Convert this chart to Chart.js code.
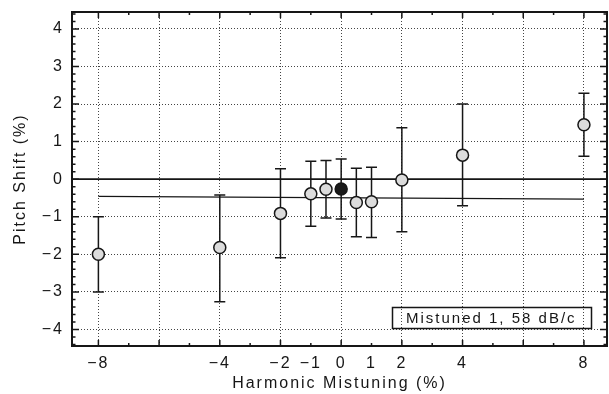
<!DOCTYPE html>
<html>
<head>
<meta charset="utf-8">
<script src="https://cdn.jsdelivr.net/npm/chart.js@4"></script>
<style>
  html, body { margin: 0; padding: 0; background: #fff; }
  canvas { display: block; }
</style>
</head>
<body>
<canvas id="grafico" width="609" height="394"></canvas>
<script>
// datos
const mistuning  = [-8, -4, -2, -1, -0.5, 0, 0.5, 1, 2, 4, 8];
const pitchShift = [-2.0, -1.82, -0.91, -0.39, -0.27, -0.26, -0.62, -0.60, -0.02, 0.64, 1.45];
const errUpper   = [-1.0, -0.42, 0.28, 0.48, 0.50, 0.54, 0.29, 0.32, 1.37, 2.0, 2.29];
const errLower   = [-3.0, -3.26, -2.09, -1.25, -1.03, -1.06, -1.53, -1.55, -1.40, -0.71, 0.61];
const fitX = [-8, 8];
const fitY = [-0.46, -0.53];
const xTickLabels = [-8, -4, -2, -1, 0, 1, 2, 4, 8];
const xGridValues = [-8, -6, -4, -2, 0, 2, 4, 6, 8];
const yTickLabels = [-4, -3, -2, -1, 0, 1, 2, 3, 4];
const legendText = 'Mistuned 1, 58 dB/c';

const ink = '#161616';
const fuente = 'Liberation Sans, Arial, sans-serif';

function menos(v) {
    return String(v).replace('-', '\u2212');
}

function sinRelleno(s) {
    s.paddingTop = 0; s.paddingBottom = 0;
    s.paddingLeft = 0; s.paddingRight = 0;
}

const puntos = mistuning.map((x, i) => ({ x: x, y: pitchShift[i] }));
const recta = fitX.map((x, i) => ({ x: x, y: fitY[i] }));

// barras de error, ejes y marcas
const extras = {
    id: 'extras',
    beforeDraw(chart) {
        chart.ctx.letterSpacing = '2px';
    },
    beforeDatasetsDraw(chart) {
        const c = chart.ctx, xs = chart.scales.x, ys = chart.scales.y, a = chart.chartArea;
        c.save();
        c.strokeStyle = ink;
        // linea del cero
        c.lineWidth = 1.8;
        c.beginPath();
        c.moveTo(a.left, ys.getPixelForValue(0));
        c.lineTo(a.right, ys.getPixelForValue(0));
        c.stroke();
        // barras de error
        c.lineWidth = 1.5;
        mistuning.forEach((x, i) => {
            const px = xs.getPixelForValue(x);
            const t = ys.getPixelForValue(errUpper[i]);
            const b = ys.getPixelForValue(errLower[i]);
            c.beginPath();
            c.moveTo(px, t); c.lineTo(px, b);
            c.moveTo(px - 5.5, t); c.lineTo(px + 5.5, t);
            c.moveTo(px - 5.5, b); c.lineTo(px + 5.5, b);
            c.stroke();
        });
        c.restore();
    },
    afterDraw(chart) {
        const c = chart.ctx, xs = chart.scales.x, ys = chart.scales.y, a = chart.chartArea;
        c.save();
        c.strokeStyle = ink;
        c.lineWidth = 1.5;
        c.beginPath();
        for (let v = -8; v <= 8; v++) {
            const px = xs.getPixelForValue(v);
            const len = v % 2 === 0 ? 6 : 3;
            c.moveTo(px, a.bottom); c.lineTo(px, a.bottom - len);
            c.moveTo(px, a.top); c.lineTo(px, a.top + len);
        }
        for (let k = -22; k <= 22; k++) {
            const v = k / 5;
            const py = ys.getPixelForValue(v);
            const len = k % 5 === 0 ? 7 : 3.5;
            c.moveTo(a.left, py); c.lineTo(a.left + len, py);
            c.moveTo(a.right, py); c.lineTo(a.right - len, py);
        }
        c.stroke();
        // marco
        c.lineWidth = 2;
        c.strokeRect(a.left, a.top, a.right - a.left, a.bottom - a.top);
        // caja de leyenda
        c.lineWidth = 1.5;
        c.strokeRect(392.5, 307.5, 199, 21);
        c.fillStyle = ink;
        c.font = '15px ' + fuente;
        c.textBaseline = 'alphabetic';
        c.textAlign = 'left';
        c.letterSpacing = '2px';
        c.fillText(legendText, 406, 323);
        c.restore();
    }
};

new Chart(document.getElementById('grafico'), {
    type: 'scatter',
    data: {
        datasets: [{
            label: 'Pitch shift',
            data: puntos,
            pointRadius: 6,
            pointHoverRadius: 6,
            borderWidth: 1.5,
            borderColor: ink,
            backgroundColor: mistuning.map(x => x === 0 ? '#1a1a1a' : '#dcdcdc')
        }, {
            label: 'Ajuste',
            type: 'line',
            data: recta,
            showLine: true,
            pointRadius: 0,
            borderColor: ink,
            borderWidth: 1.3,
            fill: false
        }]
    },
    plugins: [extras],
    options: {
        responsive: false,
        animation: false,
        layout: { autoPadding: false, padding: { left: 0, right: 2, top: 12, bottom: 0 } },
        plugins: {
            legend: { display: false },
            tooltip: { enabled: false }
        },
        scales: {
            x: {
                type: 'linear',
                min: -8.87,
                max: 8.76,
                afterFit(s) { s.height = 48; sinRelleno(s); },
                afterBuildTicks(s) {
                    const vals = Array.from(new Set(xGridValues.concat(xTickLabels))).sort((p, q) => p - q);
                    s.ticks = vals.map(v => ({ value: v }));
                },
                grid: {
                    drawTicks: false,
                    lineWidth: 1,
                    color: ctx => (ctx.tick && xGridValues.includes(ctx.tick.value)) ? '#444' : 'rgba(0,0,0,0)'
                },
                border: { display: false, dash: [1, 2] },
                ticks: {
                    autoSkip: false,
                    maxRotation: 0,
                    padding: 8,
                    color: ink,
                    font: { family: fuente, size: 16 },
                    callback: v => xTickLabels.includes(v) ? menos(v) : ''
                },
                title: {
                    display: true,
                    text: 'Harmonic Mistuning (%)',
                    color: ink,
                    font: { family: fuente, size: 16 },
                    padding: { top: 0, bottom: 1 }
                }
            },
            y: {
                type: 'linear',
                min: -4.44,
                max: 4.45,
                afterFit(s) { s.width = 72; sinRelleno(s); },
                afterBuildTicks(s) {
                    s.ticks = yTickLabels.map(v => ({ value: v }));
                },
                grid: {
                    drawTicks: false,
                    lineWidth: 1,
                    color: '#444'
                },
                border: { display: false, dash: [1, 2] },
                ticks: {
                    padding: 8,
                    color: ink,
                    font: { family: fuente, size: 16 },
                    callback: v => menos(v)
                },
                title: {
                    display: true,
                    text: 'Pitch Shift (%)',
                    color: ink,
                    font: { family: fuente, size: 16 },
                    padding: { top: 11, bottom: 0 }
                }
            }
        }
    }
});
</script>
</body>
</html>
